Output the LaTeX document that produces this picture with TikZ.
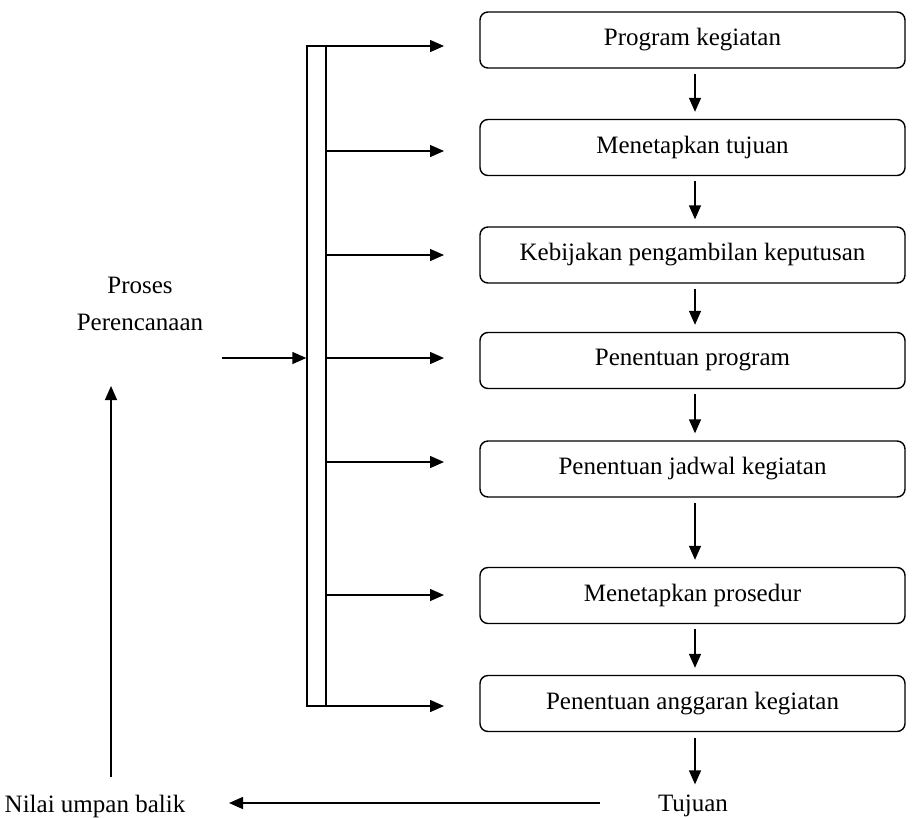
\documentclass[tikz,border=0pt]{standalone}
\usepackage{fontspec}
\setmainfont{Liberation Serif}
\usetikzlibrary{arrows.meta}
\begin{document}
\begin{tikzpicture}[x=1pt,y=-1pt,
  line width=1.4pt,
  arr/.style={-{Triangle[length=14pt,width=12pt]}},
  box/.style={draw,rounded corners=8pt,minimum width=425pt,minimum height=56pt,inner sep=0pt,font=\fontsize{25}{30}\selectfont},
  lbl/.style={font=\fontsize{25}{30}\selectfont,inner sep=0pt}]
\useasboundingbox (0,0) rectangle (912,817);
% boxes
\node[box] (b1) at (692.5,40) {Program kegiatan};
\node[box] (b2) at (692.5,147.5) {Menetapkan tujuan};
\node[box] (b3) at (692.5,255) {Kebijakan pengambilan keputusan};
\node[box] (b4) at (692.5,360.5) {Penentuan program};
\node[box] (b5) at (692.5,469) {Penentuan jadwal kegiatan};
\node[box] (b6) at (692.5,595.5) {Menetapkan prosedur};
\node[box] (b7) at (692.5,703.5) {Penentuan anggaran kegiatan};
% bar
\node[draw,minimum width=19pt,minimum height=660pt,inner sep=0pt] (bar) at (316.5,376) {};
% arrows from bar
\foreach \i/\y in {1/46,2/151,3/255,4/358,5/462,6/595,7/706}{
  \coordinate (t\i) at (444,\y);
  \draw[arr] (bar.east |- t\i) -- (t\i);
}
% down arrows
\foreach \a/\b in {b1/b2,b2/b3,b3/b4,b4/b5,b5/b6,b6/b7}{
  \draw[arr,shorten <=5pt,shorten >=7pt] ([xshift=2.5pt]\a.south) -- ([xshift=2.5pt]\b.north);
}
% Tujuan
\node[lbl] (tuj) at (693,806) {Tujuan};
\draw[arr,shorten <=6pt,shorten >=10pt] ([xshift=2.5pt]b7.south) -- ([xshift=2.5pt]b7.south |- tuj.north);
% feedback
\node[lbl] (nilai) at (95,806) {Nilai umpan balik};
\coordinate (fbstart) at (600,803);
\coordinate (fbend) at (229,803);
\draw[arr] (fbstart) -- (fbend);
\coordinate (upbot) at (111,777);
\coordinate (uptop) at (111,386);
\draw[arr] (upbot) -- (uptop);
% Proses Perencanaan
\node[lbl,align=center,font=\fontsize{25}{37}\selectfont] (proses) at (140,304) {Proses\\Perencanaan};
\coordinate (inp) at (222,358);
\draw[arr] (inp) -- (bar.west |- inp);
\end{tikzpicture}
\end{document}
